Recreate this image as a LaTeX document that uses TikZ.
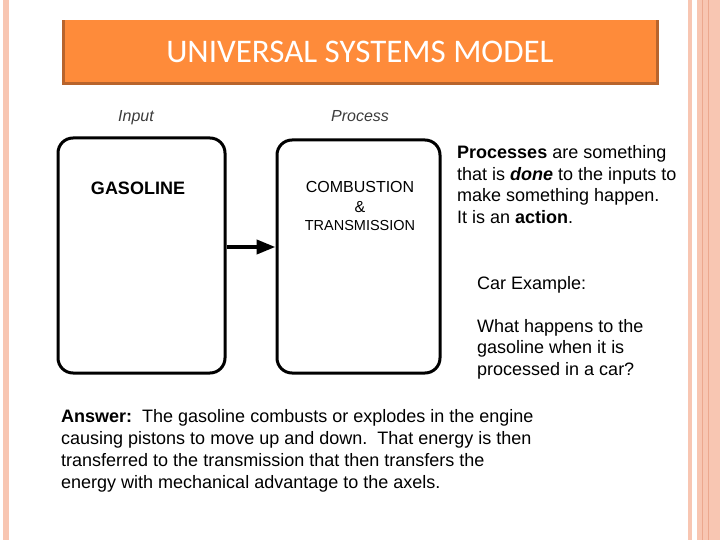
\documentclass[tikz,border=0pt]{standalone}
\usepackage{fontspec}
\setmainfont{Liberation Sans}
\newfontfamily\titlefont{Carlito}
\usetikzlibrary{arrows.meta}
\definecolor{stripe}{RGB}{248,198,178}
\definecolor{stripedark}{RGB}{236,168,142}
\definecolor{orangefill}{RGB}{254,139,58}
\definecolor{orangeedge}{RGB}{184,100,44}
\definecolor{labelgray}{RGB}{60,60,60}
\tikzset{
  txt/.style={anchor=base west, inner sep=0pt, font=\fontsize{18}{21.6}\selectfont},
  mid/.style={anchor=base, inner sep=0pt},
  blockbox/.style={draw, line width=3pt, rounded corners=15pt, inner sep=0pt},
  conn/.style={line width=4pt, -{Triangle[length=19pt,width=14pt]}},
  hdr/.style={anchor=base, inner sep=0pt, text=labelgray, font=\fontsize{16}{19}\selectfont\itshape}
}
\begin{document}
\begin{tikzpicture}[x=1pt,y=-1pt]
\useasboundingbox (0,0) rectangle (720,540);
% background stripes
\fill[stripe] (3,0) rectangle (9,540);
\fill[stripe] (688,0) rectangle (692,540);
\fill[stripe] (697,0) rectangle (720,540);
\draw[stripedark, line width=1pt] (702,0) -- (702,540);
\draw[stripedark, line width=1pt] (708,0) -- (708,540);
% title banner
\fill[orangeedge] (62,20) rectangle (659,85);
\fill[orangefill] (65,20) rectangle (656,82);
\node[mid, text=white, font=\titlefont\fontsize{33}{37}\selectfont] (title) at (360,63) {UNIVERSAL SYSTEMS MODEL};
% headers
\node[hdr] (hin) at (136,122) {Input};
\node[hdr] (hpr) at (360,122) {Process};
% blocks
\node[blockbox, minimum width=167pt, minimum height=235pt] (inp) at (141.5,255.5) {};
\node[blockbox, minimum width=163pt, minimum height=233pt] (proc) at (358.5,256.5) {};
\node[mid, font=\fontsize{18}{21}\selectfont\bfseries] (gas) at (138,195) {GASOLINE};
\node[mid, font=\fontsize{16}{19}\selectfont] (comb) at (360,193) {COMBUSTION};
\node[mid, font=\fontsize{16}{19}\selectfont] (amp) at (360,212) {\&};
\node[mid, font=\fontsize{14.5}{17}\selectfont] (trans) at (360,230) {TRANSMISSION};
\coordinate (ay) at (0,247);
\draw[conn] (inp.east |- ay) -- (proc.west |- ay);
% explanatory text
\node[txt] (p1) at (457,159) {\textbf{Processes} are something};
\node[txt] (p2) at (457,180.5) {that is \textbf{\textit{done}} to the inputs to};
\node[txt] (p3) at (457,202) {make something happen.};
\node[txt] (p4) at (457,223.5) {It is an \textbf{action}.};
\node[txt] (c1) at (477,289) {Car Example:};
\node[txt] (q1) at (477,332) {What happens to the};
\node[txt] (q2) at (477,353.5) {gasoline when it is};
\node[txt] (q3) at (477,375) {processed in a car?};
\node[txt] (a1) at (61,422) {\textbf{Answer:}\ \ The gasoline combusts or explodes in the engine};
\node[txt] (a2) at (61,444) {causing pistons to move up and down.\ \ That energy is then};
\node[txt] (a3) at (61,466) {transferred to the transmission that then transfers the};
\node[txt] (a4) at (61,488) {energy with mechanical advantage to the axels.};
\end{tikzpicture}
\end{document}
